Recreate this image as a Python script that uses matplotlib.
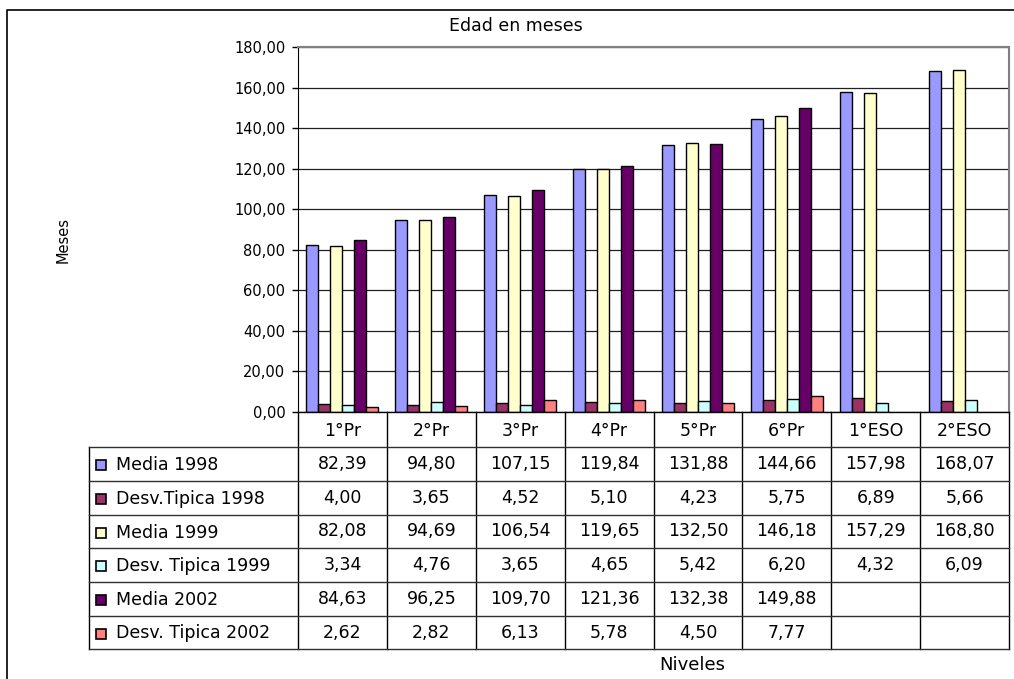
import numpy as np
import matplotlib.pyplot as plt
from matplotlib.patches import Rectangle
from matplotlib.transforms import blended_transform_factory

plt.rcParams['font.family'] = ['DejaVu Sans']

niveles = ['1°Pr', '2°Pr', '3°Pr', '4°Pr', '5°Pr', '6°Pr', '1°ESO', '2°ESO']
series = ['Media 1998', 'Desv.Tipica 1998', 'Media 1999',
          'Desv. Tipica 1999', 'Media 2002', 'Desv. Tipica 2002']
media_1998 = [82.39, 94.80, 107.15, 119.84, 131.88, 144.66, 157.98, 168.07]
desv_1998 = [4.00, 3.65, 4.52, 5.10, 4.23, 5.75, 6.89, 5.66]
media_1999 = [82.08, 94.69, 106.54, 119.65, 132.50, 146.18, 157.29, 168.80]
desv_1999 = [3.34, 4.76, 3.65, 4.65, 5.42, 6.20, 4.32, 6.09]
media_2002 = [84.63, 96.25, 109.70, 121.36, 132.38, 149.88, None, None]
desv_2002 = [2.62, 2.82, 6.13, 5.78, 4.50, 7.77, None, None]
colores = ['#9999FF', '#993366', '#FFFFCC', '#CCFFFF', '#660066', '#FF8080']

valores = [media_1998, desv_1998, media_1999, desv_1999, media_2002, desv_2002]

W, H = 1014, 679
fig = plt.figure(figsize=(W / 100, H / 100), dpi=100)

# area del grafico (en pixeles)
px0, px1, py0, py1 = 298, 1009, 47, 412
ax = fig.add_axes([px0 / W, 1 - py1 / H, (px1 - px0) / W, (py1 - py0) / H])

n = len(niveles)
x = np.arange(n)
bw = 0.135
for k, (vals, c) in enumerate(zip(valores, colores)):
    v = np.array([np.nan if a is None else a for a in vals], dtype=float)
    ax.bar(x - 3 * bw + bw * (k + 0.5), v, width=bw, color=c,
           edgecolor='black', linewidth=1.0, zorder=3)

ax.set_xlim(-0.5, n - 0.5)
ax.set_ylim(0, 180)
ax.set_yticks(np.arange(0, 181, 20))
ax.set_yticklabels([f'{t:.2f}'.replace('.', ',') for t in np.arange(0, 181, 20)],
                   fontsize=10.5)
ax.set_xticks([])
ax.tick_params(axis='y', direction='out', length=4, width=1, pad=5)
ax.grid(axis='y', color='#202020', linewidth=0.9, zorder=0)
for s in ['top', 'right']:
    ax.spines[s].set_color('#808080')
    ax.spines[s].set_linewidth(1.5)
ax.spines['left'].set_color('black')
ax.spines['bottom'].set_visible(False)

# tabla de datos bajo el grafico
tab = fig.add_axes([0, 0, 1, 1], zorder=5)
tab.set_xlim(0, W)
tab.set_ylim(H, 0)
tab.axis('off')
tr = blended_transform_factory(ax.transData, tab.transData)

tx0 = 89
filas = [447, 481, 515, 548, 582, 616, 649]
lw = 1.0
# lineas verticales de columnas
for i in range(n + 1):
    tab.plot([i - 0.5, i - 0.5], [py1, filas[-1]], color='black', lw=lw,
             transform=tr, zorder=1)
tab.plot([tx0, tx0], [filas[0], filas[-1]], color='black', lw=lw)
tab.plot([px0, px1], [py1, py1], color='black', lw=lw)
for y in filas:
    tab.plot([tx0, px1], [y, y], color='#303030', lw=lw)

for i, lab in enumerate(niveles):
    tab.text(i, (py1 + filas[0]) / 2 + 1, lab, transform=tr, ha='center',
             va='center', fontsize=12.5)

for r, (nombre, vals, c) in enumerate(zip(series, valores, colores)):
    yc = (filas[r] + filas[r + 1]) / 2
    tab.add_patch(Rectangle((96, yc - 4), 10, 10, facecolor=c,
                            edgecolor='black', lw=1.2))
    tab.text(116, yc + 1, nombre, ha='left', va='center', fontsize=12.5)
    for i, v in enumerate(vals):
        if v is None:
            continue
        tab.text(i, yc, f'{v:.2f}'.replace('.', ','), transform=tr,
                 ha='center', va='center', fontsize=12.5)

# marco exterior
tab.plot([7, 7, W + 5], [H + 5, 10, 10], color='black', lw=1.2)

tab.text(516, 26, 'Edad en meses', ha='center', va='center', fontsize=12.5)
tab.text(63, 240, 'Meses', ha='center', va='center', rotation=90, fontsize=10.5)
tab.text(692, 665, 'Niveles', ha='center', va='center', fontsize=13)

fig.savefig('out.png', dpi=100)
